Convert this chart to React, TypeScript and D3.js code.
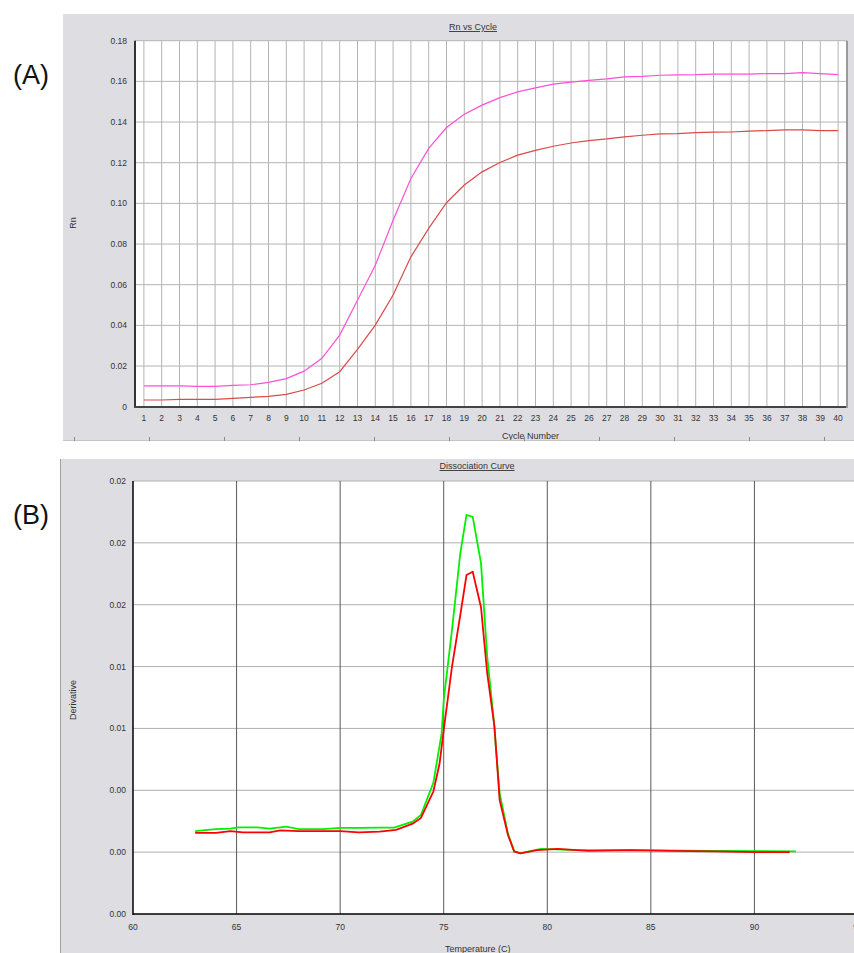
import React, { useEffect } from "react";
import * as d3 from "d3";

// ---------- Panel A data (Rn vs Cycle) ----------
const cycles = [1, 2, 3, 4, 5, 6, 7, 8, 9, 10, 11, 12, 13, 14, 15, 16, 17, 18, 19, 20,
  21, 22, 23, 24, 25, 26, 27, 28, 29, 30, 31, 32, 33, 34, 35, 36, 37, 38, 39, 40];
const rnPink = [0.0102, 0.0102, 0.0102, 0.0100, 0.0100, 0.0105, 0.0108, 0.0120, 0.0138, 0.0175,
  0.0238, 0.0352, 0.0524, 0.0696, 0.0917, 0.1122, 0.1270, 0.1373, 0.1438, 0.1483,
  0.1520, 0.1548, 0.1568, 0.1586, 0.1596, 0.1605, 0.1612, 0.1622, 0.1625, 0.1630,
  0.1632, 0.1633, 0.1636, 0.1636, 0.1636, 0.1638, 0.1638, 0.1643, 0.1638, 0.1633];
const rnRed = [0.0033, 0.0033, 0.0036, 0.0036, 0.0036, 0.0041, 0.0046, 0.0051, 0.0061, 0.0082,
  0.0115, 0.0172, 0.0282, 0.0401, 0.0549, 0.0737, 0.0877, 0.1003, 0.1090, 0.1155,
  0.1201, 0.1237, 0.1261, 0.1281, 0.1297, 0.1309, 0.1317, 0.1327, 0.1335, 0.1342,
  0.1343, 0.1348, 0.1350, 0.1351, 0.1355, 0.1358, 0.1361, 0.1361, 0.1358, 0.1358];
const rnTicks = [0, 0.02, 0.04, 0.06, 0.08, 0.10, 0.12, 0.14, 0.16, 0.18];
const rnTickLabels = ["0", "0.02", "0.04", "0.06", "0.08", "0.10", "0.12", "0.14", "0.16", "0.18"];

// ---------- Panel B data (Dissociation Curve) ----------
const greenTemp = [63.0, 64.0, 64.7, 65.1, 66.0, 66.6, 67.4, 68.0, 69.2, 70.0, 71.0, 71.9, 72.6,
  73.5, 73.9, 74.5, 74.9, 75.0, 75.4, 75.8, 76.1, 76.4, 76.8, 77.1, 77.4, 77.7, 78.1, 78.4,
  78.7, 79.4, 79.7, 81.5, 84.0, 88.0, 92.0];
const greenDeriv = [0.00335, 0.00343, 0.00345, 0.0035, 0.0035, 0.00345, 0.00353, 0.00343, 0.00343,
  0.00348, 0.00348, 0.00349, 0.00349, 0.00373, 0.0040, 0.0053, 0.0073, 0.00865, 0.01148,
  0.01458, 0.01613, 0.01605, 0.01418, 0.0104, 0.00798, 0.00488, 0.00325, 0.00253, 0.00245,
  0.00258, 0.00263, 0.00258, 0.00258, 0.00255, 0.00253];
const redTemp = [63.0, 64.0, 64.7, 65.3, 66.6, 67.1, 68.0, 70.0, 70.9, 71.9, 72.7, 73.5, 73.9,
  74.5, 74.8, 75.0, 75.4, 75.8, 76.1, 76.4, 76.8, 77.1, 77.45, 77.7, 78.1, 78.4, 78.7, 79.5,
  80.5, 82.0, 84.0, 86.0, 88.0, 90.0, 91.7];
const redDeriv = [0.00328, 0.00328, 0.00335, 0.0033, 0.0033, 0.00338, 0.00335, 0.00335, 0.0033,
  0.00333, 0.0034, 0.00365, 0.00388, 0.00495, 0.00608, 0.00743, 0.0100, 0.01208, 0.0137,
  0.01383, 0.0124, 0.00973, 0.00758, 0.0046, 0.0032, 0.00253, 0.00245, 0.00258, 0.00263,
  0.00255, 0.00258, 0.00255, 0.00253, 0.0025, 0.0025];
const tempTicks = [60, 65, 70, 75, 80, 85, 90, 95];
const derivTicks = [0, 0.0025, 0.005, 0.0075, 0.01, 0.0125, 0.015, 0.0175];
const derivTickLabels = ["0.00", "0.00", "0.00", "0.01", "0.01", "0.02", "0.02", "0.02"];

const FONT = "'Liberation Sans', Arial, Helvetica, sans-serif";
const W = 854;
const H = 953;

export default function App() {
  useEffect(() => {
    document.body.style.margin = "0";
  }, []);

  // Panel A scales
  const xA = d3.scaleLinear().domain([0.5, 40.5]).range([135, 847]);
  const yA = d3.scaleLinear().domain([0, 0.18]).range([406.7, 40.7]);
  const lineA = d3
    .line<number>()
    .x((_, i) => xA(cycles[i]))
    .y((d) => yA(d));

  // Panel B scales
  const xB = d3.scaleLinear().domain([60, 95]).range([133, 858]);
  const yB = d3.scaleLinear().domain([0, 0.0175]).range([914, 481]);
  const lineB = (temps: number[], vals: number[]) =>
    d3
      .line<number>()
      .x((_, i) => xB(temps[i]))
      .y((d) => yB(d))(vals) || "";

  const sepTicks = d3.range(74, 854, 75);

  return (
    <svg
      width={W}
      height={H}
      style={{ position: "absolute", left: 0, top: 0, display: "block" }}
      fontFamily={FONT}
    >
      <rect x={0} y={0} width={W} height={H} fill="#ffffff" />

      {/* ---------------- Panel A ---------------- */}
      <rect x={63} y={14} width={W - 63} height={426} fill="#dedee2" />
      <rect x={135} y={40.7} width={712} height={366} fill="#ffffff" />
      {/* grid */}
      {cycles.map((c) => (
        <line key={"vg" + c} x1={xA(c)} x2={xA(c)} y1={40.7} y2={406.7} stroke="#b4b4b4" strokeWidth={1} />
      ))}
      {rnTicks.slice(1).map((t) => (
        <line key={"hg" + t} x1={135} x2={847} y1={yA(t)} y2={yA(t)} stroke="#b4b4b4" strokeWidth={1} />
      ))}
      {/* axes */}
      <line x1={135} x2={135} y1={40.7} y2={407.5} stroke="#333" strokeWidth={2} />
      <line x1={134} x2={847} y1={407} y2={407} stroke="#444" strokeWidth={2} />
      <line x1={847} x2={847} y1={40.7} y2={408} stroke="#9a9a9a" strokeWidth={2} />
      {/* curves */}
      <path d={lineA(rnRed) || ""} fill="none" stroke="#dc4a4a" strokeWidth={1.2} />
      <path d={lineA(rnPink) || ""} fill="none" stroke="#ff4fd8" strokeWidth={1.2} />
      {/* tick labels */}
      {rnTicks.map((t, i) => (
        <text key={"yl" + t} x={127} y={yA(t)} dy="0.35em" textAnchor="end" fontSize={8.5} fill="#333">
          {rnTickLabels[i]}
        </text>
      ))}
      {cycles.map((c) => (
        <text key={"xl" + c} x={xA(c)} y={420.5} textAnchor="middle" fontSize={8.5} fill="#333">
          {c}
        </text>
      ))}
      <text x={473} y={30} textAnchor="middle" fontSize={9} fill="#333" textDecoration="underline">
        Rn vs Cycle
      </text>
      <text x={502} y={439} fontSize={9} fill="#333">
        Cycle Number
      </text>
      <text transform="translate(76,223) rotate(-90)" textAnchor="middle" fontSize={9} fill="#333">
        Rn
      </text>
      {/* separator strip */}
      <line x1={63} x2={W} y1={440.5} y2={440.5} stroke="#c4c4c4" strokeWidth={1} />
      {sepTicks.map((x) => (
        <line key={"st" + x} x1={x + 0.5} x2={x + 0.5} y1={437} y2={441} stroke="#8a8a8a" strokeWidth={1} />
      ))}
      <text x={13} y={84} fontSize={27} fill="#111">
        (A)
      </text>

      {/* ---------------- Panel B ---------------- */}
      <rect x={60} y={459} width={W - 60} height={H - 459} fill="#dedee2" />
      <line x1={60.5} x2={60.5} y1={459} y2={H} stroke="#a0a0a0" strokeWidth={1} />
      <rect x={133} y={481} width={W - 133} height={433} fill="#ffffff" />
      {derivTicks.slice(1).map((t) => (
        <line key={"bh" + t} x1={133} x2={W} y1={yB(t)} y2={yB(t)} stroke="#b0b0b0" strokeWidth={1} />
      ))}
      {tempTicks.slice(1).map((t) => (
        <line key={"bv" + t} x1={xB(t)} x2={xB(t)} y1={481} y2={914} stroke="#5a5a5a" strokeWidth={1} />
      ))}
      <line x1={133} x2={133} y1={481} y2={915} stroke="#000" strokeWidth={1.5} />
      <line x1={133} x2={W} y1={914} y2={914} stroke="#000" strokeWidth={1.5} />
      <path d={lineB(greenTemp, greenDeriv)} fill="none" stroke="#00f000" strokeWidth={1.8} />
      <path d={lineB(redTemp, redDeriv)} fill="none" stroke="#ff0000" strokeWidth={1.8} />
      {derivTicks.map((t, i) => (
        <text key={"byl" + i} x={126} y={yB(t)} dy="0.35em" textAnchor="end" fontSize={8.5} fill="#333">
          {derivTickLabels[i]}
        </text>
      ))}
      {tempTicks.map((t) => (
        <text key={"bxl" + t} x={xB(t)} y={930} textAnchor="middle" fontSize={8.5} fill="#333">
          {t}
        </text>
      ))}
      <text x={477} y={469} textAnchor="middle" fontSize={9} fill="#333" textDecoration="underline">
        Dissociation Curve
      </text>
      <text x={445} y={952} fontSize={9} fill="#333">
        Temperature (C)
      </text>
      <text transform="translate(76,700) rotate(-90)" textAnchor="middle" fontSize={9} fill="#333">
        Derivative
      </text>
      <text x={13} y={524} fontSize={27} fill="#111">
        (B)
      </text>
    </svg>
  );
}
